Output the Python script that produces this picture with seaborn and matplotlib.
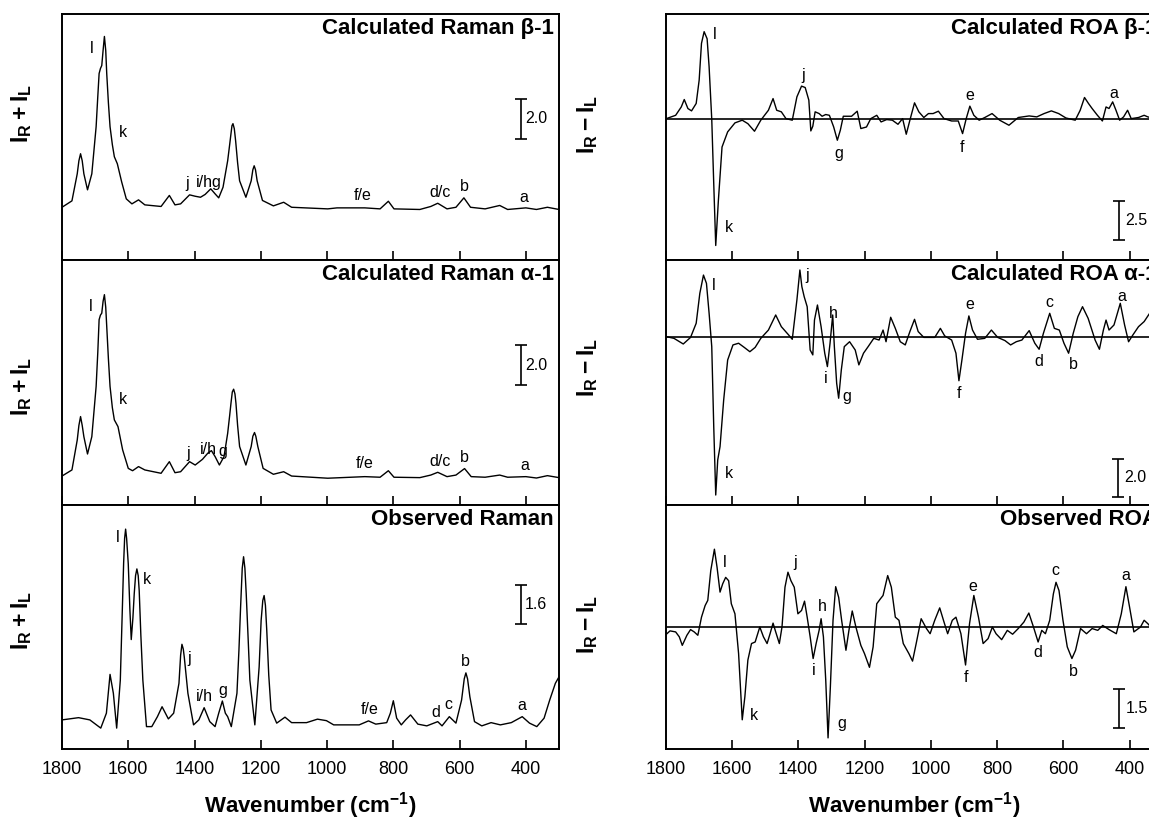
import pandas as pd
import seaborn as sns
import matplotlib.pyplot as plt

# Spectra (wavenumber in cm-1, intensity in scale-bar units)
raman_b1_x = [1800, 1770, 1754, 1749, 1744, 1739, 1734, 1723, 1710, 1697, 1692, 1688, 1684, 1680, 1676, 1672,
              1668, 1665, 1660, 1655, 1648, 1642, 1633, 1620, 1606, 1589, 1569, 1550, 1501, 1476, 1459, 1442,
              1415, 1398, 1382, 1368, 1351, 1338, 1327, 1314, 1300, 1294, 1290, 1287, 1284, 1280, 1276, 1270,
              1264, 1245, 1229, 1224, 1220, 1216, 1211, 1195, 1162, 1131, 1107, 998, 970, 886, 840, 815, 798,
              720, 687, 666, 638, 611, 587, 567, 523, 479, 455, 400, 368, 335, 300]
raman_b1_y = [0.08, 0.4, 1.75, 2.4, 2.75, 2.4, 1.75, 0.95, 1.75, 4.1, 5.6, 6.75, 7.0, 7.15, 7.9, 8.6,
              7.9, 6.75, 5.3, 4.1, 3.2, 2.6, 2.25, 1.35, 0.5, 0.25, 0.45, 0.2, 0.12, 0.67, 0.2, 0.25,
              0.7, 0.63, 0.58, 0.72, 1.0, 0.75, 0.55, 1.08, 2.4, 3.2, 3.75, 4.15, 4.25, 4.0, 3.4, 2.3,
              1.4, 0.58, 1.4, 1.95, 2.15, 1.95, 1.4, 0.42, 0.15, 0.33, 0.08, 0.0, 0.05, 0.05, 0.0, 0.38, 0.0,
              -0.03, 0.12, 0.28, 0.0, 0.08, 0.55, 0.08, 0.0, 0.17, -0.03, 0.05, -0.03, 0.08, -0.03]

raman_a1_x = [1800, 1770, 1754, 1749, 1744, 1739, 1734, 1723, 1710, 1697, 1692, 1688, 1684, 1680, 1676, 1672,
              1668, 1665, 1660, 1655, 1648, 1642, 1631, 1617, 1600, 1587, 1569, 1550, 1501, 1476, 1459, 1442,
              1415, 1398, 1376, 1360, 1349, 1338, 1325, 1311, 1300, 1294, 1290, 1286, 1282, 1278, 1275, 1270,
              1264, 1245, 1229, 1224, 1219, 1215, 1209, 1193, 1162, 1131, 1107, 998, 886, 840, 815, 798, 720,
              687, 666, 638, 611, 585, 565, 523, 479, 455, 400, 368, 335, 300]
raman_a1_y = [0.03, 0.34, 1.86, 2.6, 3.05, 2.6, 2.03, 1.15, 2.03, 4.58, 6.3, 7.97, 8.2, 8.3, 8.9, 9.24,
              8.6, 7.63, 6.0, 4.58, 3.5, 2.88, 2.54, 1.36, 0.42, 0.3, 0.51, 0.34, 0.17, 0.76, 0.2, 0.25,
              0.76, 0.59, 0.88, 1.19, 1.32, 1.02, 0.59, 1.02, 2.2, 3.1, 3.73, 4.3, 4.44, 4.2, 3.73, 2.6,
              1.53, 0.59, 1.53, 2.05, 2.24, 2.05, 1.53, 0.42, 0.12, 0.25, 0.03, -0.08, 0.0, -0.03, 0.3, -0.03,
              -0.05, 0.08, 0.22, 0.0, 0.08, 0.41, 0.0, -0.03, 0.08, -0.03, 0.0, -0.07, 0.05, -0.05]

raman_obs_x = [1800, 1750, 1716, 1683, 1666, 1655, 1645, 1635, 1624, 1618, 1614, 1611, 1608, 1605, 1600, 1595,
               1591, 1586, 1582, 1578, 1574, 1570, 1567, 1562, 1556, 1545, 1529, 1512, 1498, 1479, 1463, 1447,
               1442, 1438, 1434, 1431, 1420, 1403, 1387, 1371, 1354, 1338, 1327, 1316, 1307, 1300, 1289, 1272,
               1266, 1261, 1256, 1252, 1248, 1244, 1238, 1233, 1218, 1205, 1199, 1194, 1190, 1186, 1182, 1176,
               1169, 1152, 1127, 1107, 1062, 1029, 1002, 980, 941, 903, 875, 853, 820, 809, 800, 790, 776, 763,
               748, 726, 699, 666, 653, 631, 611, 594, 586, 581, 576, 569, 555, 533, 505, 477, 444, 411, 389,
               367, 345, 328, 311, 300]
raman_obs_y = [0.2, 0.29, 0.2, -0.13, 0.47, 2.03, 1.27, -0.13, 1.8, 4.6, 6.5, 7.5, 7.87, 7.5, 6.47, 4.6,
               3.43, 4.3, 5.27, 6.0, 6.27, 6.0, 5.4, 3.6, 1.8, -0.07, -0.07, 0.33, 0.73, 0.24, 0.47, 1.67,
               2.8, 3.24, 3.05, 2.73, 1.27, 0.0, 0.2, 0.69, 0.13, -0.07, 0.47, 0.96, 0.47, 0.33, -0.07, 1.27,
               3.0, 4.73, 6.3, 6.76, 6.3, 5.27, 3.4, 1.8, 0.0, 2.33, 4.2, 5.0, 5.2, 4.8, 3.8, 2.0,
               0.6, 0.07, 0.31, 0.09, 0.09, 0.23, 0.17, 0.0, 0.0, 0.0, 0.16, 0.03, 0.09, 0.47, 0.97, 0.27, 0.0,
               0.2, 0.4, 0.03, -0.04, 0.13, -0.04, 0.33, 0.07, 1.0, 1.85, 2.09, 1.85, 1.13, 0.13, -0.04, 0.09,
               0.0, 0.09, 0.33, 0.07, -0.07, 0.27, 1.0, 1.67, 1.93]

roa_b1_x = [1798, 1770, 1753, 1744, 1733, 1722, 1708, 1699, 1692, 1684, 1675, 1669, 1661, 1655, 1649, 1641,
            1630, 1613, 1591, 1569, 1552, 1532, 1513, 1490, 1476, 1465, 1451, 1437, 1418, 1404, 1390, 1379,
            1368, 1362, 1356, 1349, 1337, 1328, 1317, 1306, 1293, 1282, 1273, 1264, 1239, 1222, 1211, 1194,
            1181, 1163, 1150, 1133, 1116, 1099, 1085, 1074, 1063, 1049, 1036, 1021, 1007, 993, 977, 960, 937,
            917, 904, 893, 882, 870, 854, 837, 815, 792, 764, 736, 703, 680, 658, 636, 614, 592, 564, 549, 536,
            524, 513, 497, 482, 471, 462, 451, 441, 430, 418, 406, 395, 373, 356, 345, 336, 320, 300]
roa_b1_y = [0.04, 0.25, 0.78, 1.25, 0.68, 0.53, 1.0, 2.48, 4.81, 5.55, 5.1, 3.33, 0.0, -4.09, -8.0, -5.15,
            -1.76, -0.8, -0.23, -0.06, -0.28, -0.76, -0.06, 0.57, 1.31, 0.57, 0.47, 0.04, -0.06, 1.42, 2.1, 2.01,
            1.21, -0.74, -0.44, 0.47, 0.36, 0.19, 0.3, 0.25, -0.49, -1.33, -0.7, 0.19, 0.19, 0.51, -0.59, -0.49,
            0.04, 0.25, -0.17, -0.02, -0.06, -0.32, 0.04, -0.95, -0.06, 1.04, 0.47, 0.11, 0.36, 0.36, 0.51, 0.04,
            -0.11, -0.11, -0.91, 0.04, 0.83, 0.25, -0.06, 0.11, 0.36, -0.06, -0.38, 0.11, 0.21, 0.15, 0.36, 0.53,
            0.36, 0.08, -0.06, 0.57, 1.38, 1.0, 0.68, 0.25, -0.11, 0.78, 0.68, 1.1, 0.57, -0.06, 0.15, 0.57,
            0.04, 0.11, 0.25, 0.15, 0.1, 0.05, 0.0]

roa_a1_x = [1798, 1775, 1747, 1725, 1708, 1697, 1686, 1677, 1669, 1661, 1655, 1649, 1643, 1636, 1625, 1613,
            1597, 1580, 1563, 1546, 1530, 1513, 1490, 1468, 1451, 1429, 1418, 1404, 1395, 1389, 1382, 1373,
            1364, 1356, 1351, 1342, 1331, 1320, 1312, 1304, 1296, 1291, 1284, 1278, 1270, 1261, 1245, 1228,
            1217, 1203, 1189, 1172, 1156, 1144, 1135, 1121, 1107, 1092, 1077, 1063, 1049, 1038, 1021, 988, 971,
            958, 937, 924, 915, 906, 895, 885, 874, 859, 837, 817, 798, 776, 759, 742, 725, 703, 686, 673, 660,
            641, 627, 612, 598, 584, 570, 556, 542, 525, 504, 491, 479, 471, 462, 447, 428, 415, 403, 390, 373,
            356, 336, 320, 300]
roa_a1_y = [0.0, -0.09, -0.39, -0.04, 0.71, 2.3, 3.27, 2.83, 1.24, -0.53, -4.78, -8.41, -6.55, -5.84, -3.36,
            -1.24, -0.44, -0.35, -0.57, -0.8, -0.57, -0.09, 0.35, 1.15, 0.53, 0.09, -0.14, 1.95, 3.54, 2.65,
            2.12, 1.59, -0.71, -0.97, 0.88, 1.68, 0.53, -0.88, -1.59, -0.35, 1.15, -0.53, -2.48, -3.27, -1.77,
            -0.53, -0.27, -0.71, -1.5, -0.88, -0.53, -0.09, -0.18, 0.35, -0.27, 1.03, 0.44, -0.27, -0.44, 0.27,
            0.92, 0.27, -0.04, -0.04, 0.44, 0.04, -0.18, -0.88, -2.34, -1.24, 0.18, 1.1, 0.35, -0.14, -0.09,
            0.35, -0.04, -0.21, -0.44, -0.27, -0.18, 0.32, -0.35, -0.67, 0.18, 1.24, 0.44, 0.35, -0.35, -0.88,
            0.18, 1.06, 1.59, 0.97, -0.18, -0.67, 0.35, 0.88, 0.35, 0.62, 1.77, 0.62, -0.27, 0.09, 0.53, 0.8,
            1.33, 1.5, 1.4]

roa_obs_x = [1798, 1787, 1770, 1759, 1750, 1736, 1725, 1714, 1703, 1692, 1681, 1673, 1664, 1653, 1645, 1636,
             1628, 1619, 1610, 1602, 1591, 1580, 1569, 1561, 1552, 1541, 1530, 1516, 1505, 1494, 1485, 1476,
             1468, 1457, 1449, 1440, 1431, 1422, 1412, 1401, 1390, 1381, 1373, 1364, 1355, 1346, 1337, 1331,
             1324, 1317, 1310, 1303, 1295, 1287, 1278, 1269, 1256, 1247, 1237, 1226, 1211, 1200, 1185, 1174,
             1163, 1152, 1144, 1130, 1119, 1107, 1096, 1083, 1066, 1055, 1044, 1029, 1013, 1002, 988, 973, 960,
             949, 935, 924, 909, 895, 883, 870, 856, 842, 827, 814, 803, 786, 769, 753, 736, 719, 704, 690, 676,
             665, 654, 641, 630, 622, 613, 601, 588, 574, 563, 548, 530, 513, 496, 481, 462, 440, 425, 411, 400,
             387, 367, 356, 345, 336, 300]
roa_obs_y = [-0.28, -0.15, -0.19, -0.38, -0.71, -0.32, -0.1, -0.19, -0.32, 0.38, 0.83, 1.03, 2.18, 3.01, 2.31,
             1.35, 1.67, 1.92, 1.79, 0.9, 0.51, -1.03, -3.59, -2.69, -1.28, -0.64, -0.58, 0.0, -0.38, -0.64,
             -0.26, 0.15, -0.19, -0.64, 0.0, 1.54, 2.12, 1.79, 1.54, 0.51, 0.64, 1.0, 0.38, -0.38, -1.22, -0.64,
             -0.13, 0.32, -0.38, -2.05, -4.29, -2.31, 0.26, 1.56, 1.15, 0.26, -0.9, -0.13, 0.62, 0.0, -0.71,
             -1.03, -1.56, -0.77, 0.9, 1.09, 1.22, 1.99, 1.54, 0.38, 0.26, -0.64, -1.03, -1.32, -0.64, 0.32,
             -0.06, -0.26, 0.26, 0.74, 0.19, -0.26, 0.26, 0.38, -0.26, -1.47, 0.13, 1.22, 0.38, -0.64, -0.45,
             0.0, -0.26, -0.49, -0.13, -0.28, -0.06, 0.19, 0.54, 0.0, -0.58, -0.13, -0.26, 0.26, 1.28, 1.73,
             1.41, 0.26, -0.77, -1.22, -0.9, -0.06, -0.26, -0.06, -0.13, 0.06, -0.1, -0.26, 0.51, 1.56, 0.77,
             -0.19, 0.0, 0.26, 0.13, 0.0, 0.05]

# band labels: (text, wavenumber, intensity)
raman_b1_labels = [("l", 1710, 8.0), ("k", 1615, 3.83), ("j", 1422, 1.28), ("i/hg", 1358, 1.33),
                   ("f/e", 892, 0.67), ("d/c", 660, 0.83), ("b", 585, 1.12), ("a", 407, 0.58)]
raman_a1_labels = [("l", 1712, 8.64), ("k", 1616, 3.93), ("j", 1420, 1.19), ("i/h", 1358, 1.36),
                   ("g", 1316, 1.27), ("f/e", 886, 0.68), ("d/c", 660, 0.76), ("b", 585, 0.97), ("a", 402, 0.59)]
raman_obs_labels = [("l", 1632, 7.53), ("k", 1545, 5.83), ("j", 1417, 2.67), ("i/h", 1371, 1.16),
                    ("g", 1316, 1.4), ("f/e", 870, 0.63), ("d", 671, 0.51), ("c", 633, 0.83),
                    ("b", 583, 2.53), ("a", 411, 0.76)]
roa_b1_labels = [("l", 1652, 5.34), ("k", 1610, -6.84), ("j", 1384, 2.8), ("g", 1278, -2.18),
                 ("e", 882, 1.53), ("f", 906, -1.76), ("a", 449, 1.63)]
roa_a1_labels = [("l", 1655, 2.74), ("k", 1608, -7.26), ("j", 1373, 3.27), ("h", 1293, 1.24),
                 ("i", 1317, -2.21), ("g", 1253, -3.19), ("e", 882, 1.72), ("f", 915, -3.01),
                 ("d", 673, -1.33), ("c", 641, 1.81), ("b", 571, -1.5), ("a", 423, 2.12)]
roa_obs_labels = [("l", 1621, 2.5), ("k", 1533, -3.44), ("j", 1409, 2.5), ("h", 1328, 0.79),
                  ("i", 1354, -1.67), ("g", 1269, -3.72), ("e", 873, 1.56), ("f", 895, -1.95),
                  ("d", 678, -1.0), ("c", 625, 2.18), ("b", 571, -1.73), ("a", 410, 2.01)]

titles = ["Calculated Raman \u03b2-1", "Calculated Raman \u03b1-1", "Observed Raman",
          "Calculated ROA \u03b2-1", "Calculated ROA \u03b1-1", "Observed ROA"]
# scale bars: (wavenumber, bottom, length, text)
scale_bars = [(416, 3.5, 2.0, "2.0"), (416, 4.66, 2.0, "2.0"), (416, 4.04, 1.6, "1.6"),
              (431, -7.65, 2.5, "2.5"), (435, -8.5, 2.0, "2.0"), (431, -3.91, 1.5, "1.5")]
ylims = [(-2.55, 9.72), (-1.44, 11.0), (-0.97, 8.84), (-8.92, 6.67), (-8.94, 4.07), (-4.72, 4.72)]

sns.set_theme(style="white")
plt.rcParams["font.family"] = ["Liberation Sans", "DejaVu Sans"]
plt.rcParams["mathtext.fontset"] = "custom"
plt.rcParams["mathtext.rm"] = "Liberation Sans"
plt.rcParams["mathtext.bf"] = "Liberation Sans:bold"
plt.rcParams["text.color"] = "black"
plt.rcParams["xtick.color"] = "black"
plt.rcParams["axes.edgecolor"] = "black"
plt.rcParams["axes.linewidth"] = 1.4

W, H = 1149, 823
fig = plt.figure(figsize=(W / 100, H / 100), dpi=100)

rows = [(14, 260), (260, 505), (505, 749)]
# the right column runs past the figure edge, as in the (cropped) original
cols = [(62, 559), (665.7, 1162.7)]

spectra = [(raman_b1_x, raman_b1_y, raman_b1_labels), (raman_a1_x, raman_a1_y, raman_a1_labels),
           (raman_obs_x, raman_obs_y, raman_obs_labels), (roa_b1_x, roa_b1_y, roa_b1_labels),
           (roa_a1_x, roa_a1_y, roa_a1_labels), (roa_obs_x, roa_obs_y, roa_obs_labels)]

for i, (xs, ys, labels) in enumerate(spectra):
    c = i // 3
    r = i % 3
    x0, x1 = cols[c]
    y0, y1 = rows[r]
    ax = fig.add_axes([x0 / W, 1 - y1 / H, (x1 - x0) / W, (y1 - y0) / H])
    df = pd.DataFrame({"wavenumber": xs, "intensity": ys})
    sns.lineplot(data=df, x="wavenumber", y="intensity", ax=ax, color="black", lw=1.0,
                 estimator=None, sort=False, solid_joinstyle="round")
    if c == 1:
        ax.axhline(0, color="black", lw=1.2)
    ax.set_xlim(1800, 300)
    ax.set_ylim(*ylims[i])
    ax.set_yticks([])
    ax.set_xticks(list(range(1800, 399, -200)))
    ax.tick_params(axis="x", direction="in", length=6.5, width=1.2, labelsize=13, pad=9,
                   bottom=True, top=False, labelbottom=(r == 2), colors="black")
    ax.set_xlabel("")
    ax.set_ylabel("")
    for s in ax.spines.values():
        s.set_color("black")
        s.set_linewidth(1.4)

    ax.text(0.99, 0.985, titles[i], transform=ax.transAxes, ha="right", va="top",
            fontsize=16, fontweight="bold")
    for txt, lx, ly in labels:
        ax.text(lx, ly, txt, ha="center", va="center", fontsize=11.5)

    bx, bb, bl, bt = scale_bars[i]
    ax.errorbar([bx], [bb + bl / 2], yerr=[bl / 2], fmt="none", ecolor="black",
                elinewidth=1.2, capsize=4, capthick=1.2)
    ax.text(bx - (14 if c == 0 else 19), bb + bl / 2, bt, ha="left", va="center", fontsize=11.5)

# axis titles
left_lab = [114, 387, 621]
right_lab = [125, 368, 625]
for yy in left_lab:
    fig.text(22 / W, 1 - yy / H, r"$\mathbf{I_R + I_L}$", rotation=90, ha="center", va="center",
             fontsize=16.5)
for yy in right_lab:
    fig.text(588 / W, 1 - yy / H, r"$\mathbf{I_R - I_L}$", rotation=90, ha="center", va="center",
             fontsize=16.5)

for x0, x1 in cols:
    fig.text((x0 + x1) / 2 / W, 1 - 806 / H, r"Wavenumber (cm$^{\mathbf{-1}}$)", ha="center",
             va="center", fontsize=16, fontweight="bold")

fig.savefig("out.png", dpi=100)
